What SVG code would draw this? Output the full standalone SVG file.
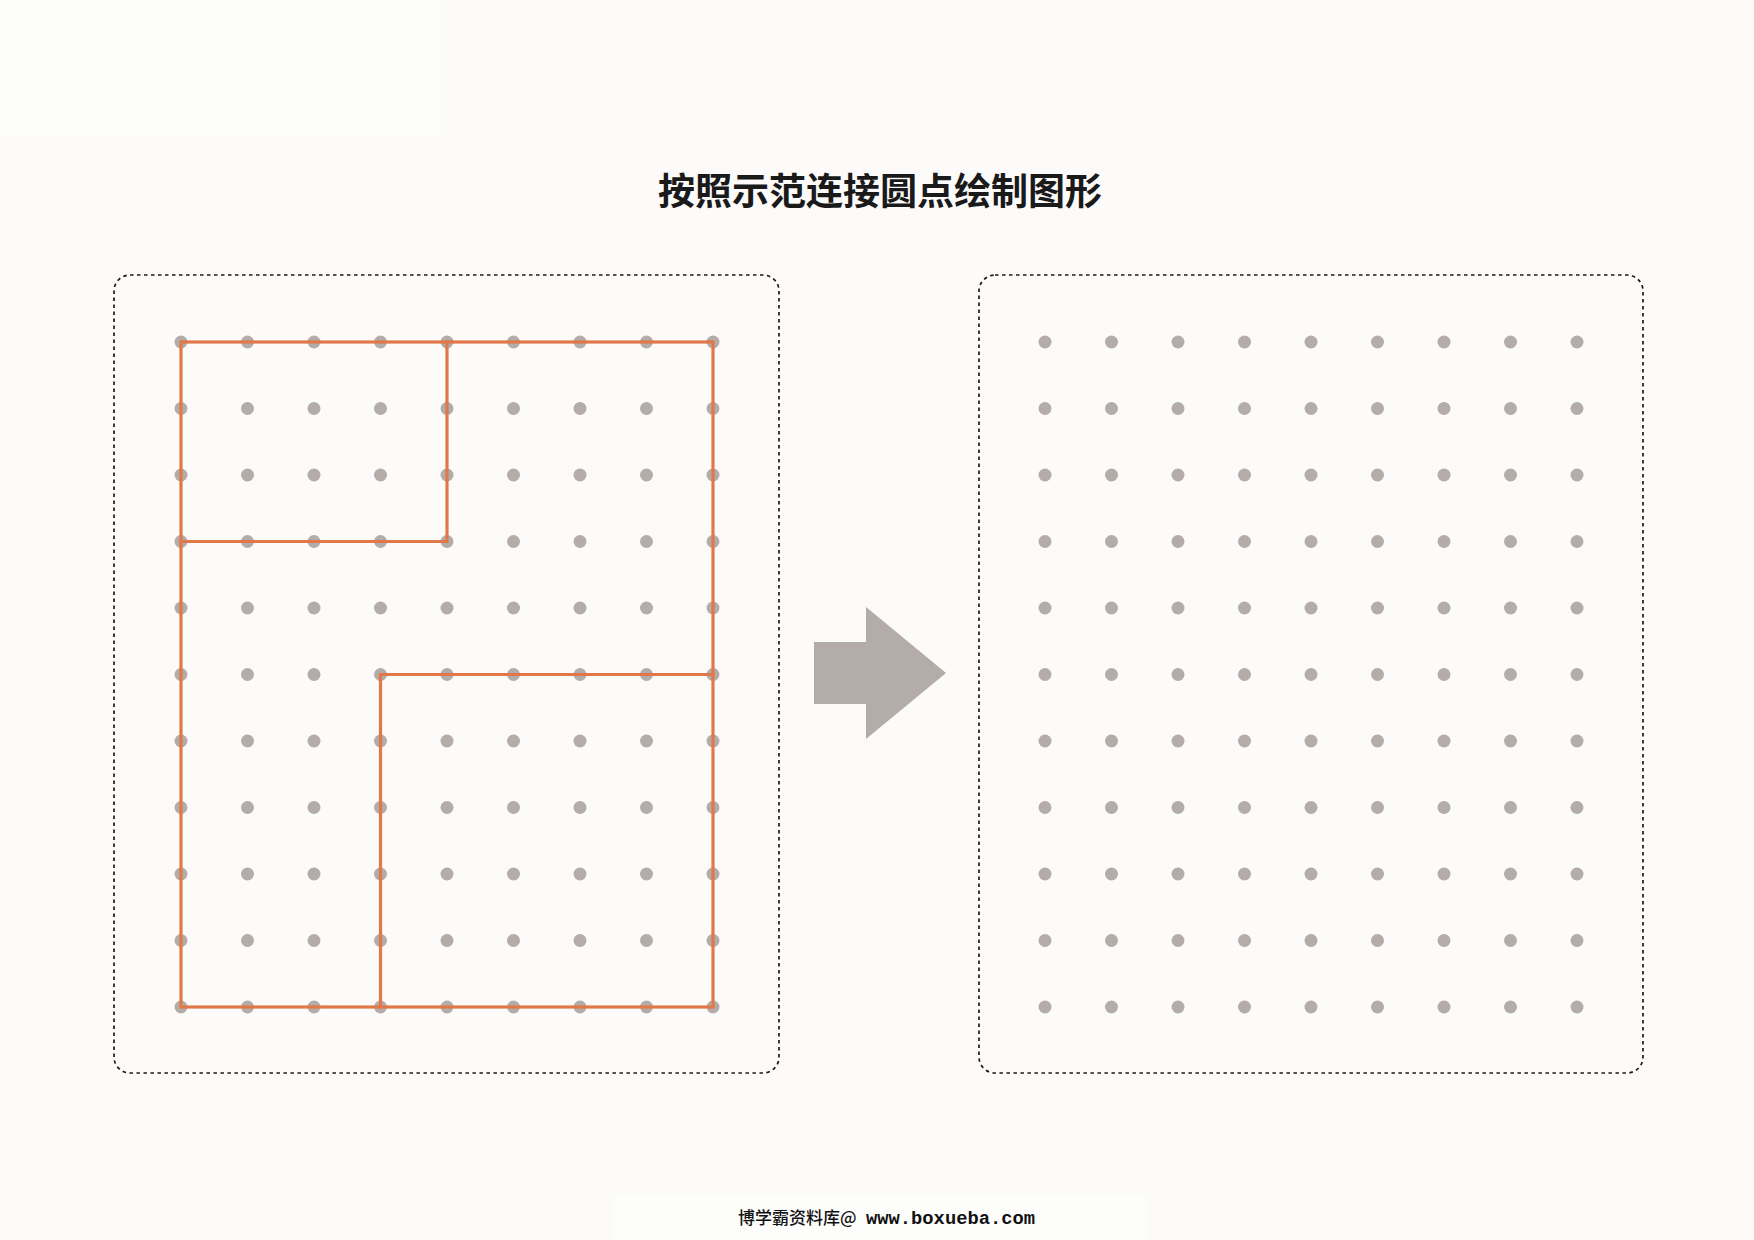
<svg xmlns="http://www.w3.org/2000/svg" xmlns:xlink="http://www.w3.org/1999/xlink" width="1754" height="1240" viewBox="0 0 1754 1240">
  <style>
    .panel { fill: none; stroke: #1a1a1a; stroke-width: 1.7; stroke-dasharray: 3.5 3.5; }
    .dot { fill: #b3aca9; }
    .shape { fill: none; stroke: #e0784a; stroke-width: 3.2; stroke-linecap: square; stroke-linejoin: miter; }
    .arrow { fill: #b3aca9; }
    .title { font-family: "Noto Sans CJK SC", "Noto Sans", sans-serif; font-size: 37px; font-weight: bold; fill: #1a1a1a; }
    .foot-cn { font-family: "Noto Sans CJK SC", "Noto Sans", sans-serif; font-size: 17px; font-weight: 500; fill: #111111; }
    .foot-url { font-family: "Liberation Mono", "DejaVu Sans Mono", monospace; font-size: 18.8px; font-weight: bold; fill: #111111; }
  </style>
  <defs>
    <g id="dotrow">
      <circle class="dot" cx="0" cy="0" r="6.5"/>
      <circle class="dot" cx="66.5" cy="0" r="6.5"/>
      <circle class="dot" cx="133" cy="0" r="6.5"/>
      <circle class="dot" cx="199.5" cy="0" r="6.5"/>
      <circle class="dot" cx="266" cy="0" r="6.5"/>
      <circle class="dot" cx="332.5" cy="0" r="6.5"/>
      <circle class="dot" cx="399" cy="0" r="6.5"/>
      <circle class="dot" cx="465.5" cy="0" r="6.5"/>
      <circle class="dot" cx="532" cy="0" r="6.5"/>
    </g>
    <g id="dotgrid">
      <use xlink:href="#dotrow" href="#dotrow" y="0"/>
      <use xlink:href="#dotrow" href="#dotrow" y="66.5"/>
      <use xlink:href="#dotrow" href="#dotrow" y="133"/>
      <use xlink:href="#dotrow" href="#dotrow" y="199.5"/>
      <use xlink:href="#dotrow" href="#dotrow" y="266"/>
      <use xlink:href="#dotrow" href="#dotrow" y="332.5"/>
      <use xlink:href="#dotrow" href="#dotrow" y="399"/>
      <use xlink:href="#dotrow" href="#dotrow" y="465.5"/>
      <use xlink:href="#dotrow" href="#dotrow" y="532"/>
      <use xlink:href="#dotrow" href="#dotrow" y="598.5"/>
      <use xlink:href="#dotrow" href="#dotrow" y="665"/>
    </g>
  </defs>

  <rect x="0" y="0" width="1754" height="1240" fill="#fcfbfa"/>
  <rect x="0" y="0" width="439" height="135" fill="#fdfdfc"/>
  <rect x="613" y="1196" width="534" height="44" fill="#fdfdfc"/>

  <g id="title">
    <text class="title" x="880" y="205" text-anchor="middle">按照示范连接圆点绘制图形</text>
  </g>

  <g id="example-panel">
    <rect class="panel" x="114" y="275" width="665" height="798" rx="16" ry="16"/>
    <use xlink:href="#dotgrid" href="#dotgrid" x="181" y="342"/>
  </g>

  <g id="example-shape">
    <rect class="shape" x="181" y="342" width="532" height="665"/>
    <polyline class="shape" points="447,342 447,541.5 181,541.5"/>
    <polyline class="shape" points="713,674.5 380.5,674.5 380.5,1007"/>
  </g>

  <g id="arrow">
    <polygon class="arrow" points="814,642 866,642 866,607 946,673 866,739 866,704 814,704"/>
  </g>

  <g id="practice-panel">
    <rect class="panel" x="979" y="275" width="664" height="798" rx="16" ry="16"/>
    <use xlink:href="#dotgrid" href="#dotgrid" x="1045" y="342"/>
  </g>

  <g id="footer">
    <text x="738" y="1224"><tspan class="foot-cn">博学霸资料库@</tspan><tspan class="foot-url" x="866">www.boxueba.com</tspan></text>
  </g>
</svg>
